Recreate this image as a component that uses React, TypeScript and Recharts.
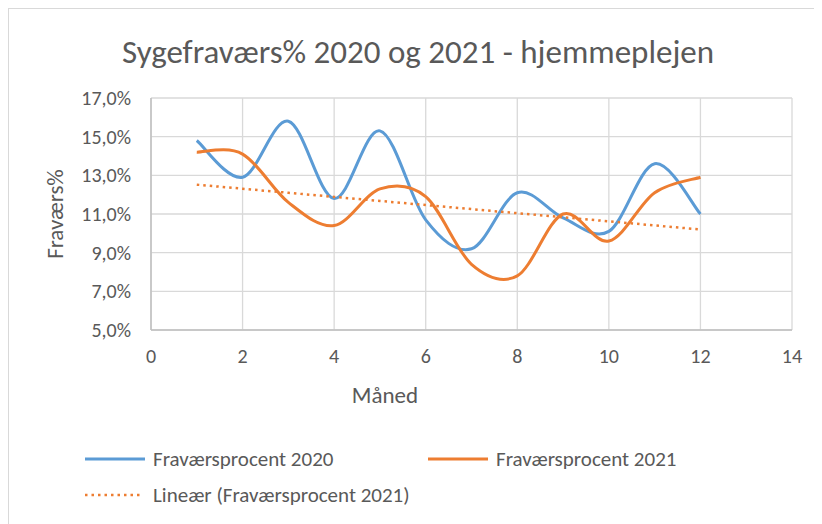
import { LineChart, Line, XAxis, YAxis, CartesianGrid } from "recharts";

const months = [1, 2, 3, 4, 5, 6, 7, 8, 9, 10, 11, 12];
const absence2020 = [14.8, 12.9, 15.8, 11.8, 15.3, 10.7, 9.2, 12.1, 10.8, 10.1, 13.6, 11.0];
const absence2021 = [14.2, 14.1, 11.6, 10.4, 12.3, 11.9, 8.4, 7.8, 11.0, 9.6, 12.1, 12.9];
const xTicks = [0, 2, 4, 6, 8, 10, 12, 14];
const yTicks = [5, 7, 9, 11, 13, 15, 17];

const BLUE = "#5B9BD5";
const ORANGE = "#ED7D31";
const TEXT = "#595959";
const GRID = "#D9D9D9";
const FONT = "Carlito, Lato, sans-serif";

// least squares line, like Excel's "Lineær" trendline
function linearFit(xs: number[], ys: number[]) {
  const n = xs.length;
  const mx = xs.reduce((s, v) => s + v, 0) / n;
  const my = ys.reduce((s, v) => s + v, 0) / n;
  let sxy = 0;
  let sxx = 0;
  xs.forEach((x, i) => {
    sxy += (x - mx) * (ys[i] - my);
    sxx += (x - mx) * (x - mx);
  });
  const slope = sxy / sxx;
  return (x: number) => my + slope * (x - mx);
}

const trend2021 = linearFit(months, absence2021);

const data = months.map((m, i) => ({
  month: m,
  y2020: absence2020[i],
  y2021: absence2021[i],
  trend: trend2021(m),
}));

// Excel-style smoothed line (catmull-rom through the points)
function excelSmooth(context: any) {
  let pts: [number, number][] = [];
  return {
    areaStart() {},
    areaEnd() {},
    lineStart() {
      pts = [];
    },
    lineEnd() {
      if (!pts.length) return;
      context.moveTo(pts[0][0], pts[0][1]);
      for (let i = 0; i < pts.length - 1; i++) {
        const p0 = pts[Math.max(i - 1, 0)];
        const p1 = pts[i];
        const p2 = pts[i + 1];
        const p3 = pts[Math.min(i + 2, pts.length - 1)];
        context.bezierCurveTo(
          p1[0] + (p2[0] - p0[0]) / 6,
          p1[1] + (p2[1] - p0[1]) / 6,
          p2[0] - (p3[0] - p1[0]) / 6,
          p2[1] - (p3[1] - p1[1]) / 6,
          p2[0],
          p2[1]
        );
      }
    },
    point(x: number, y: number) {
      pts.push([+x, +y]);
    },
  };
}

const pct = (v: number) => v.toFixed(1).replace(".", ",") + "%";

function LegendItem({ color, dotted, label }: { color: string; dotted?: boolean; label: string }) {
  return (
    <div style={{ display: "flex", alignItems: "center" }}>
      <svg width={62} height={8} style={{ marginRight: 7 }}>
        <line
          x1={1}
          y1={4}
          x2={dotted ? 57 : 61}
          y2={4}
          stroke={color}
          strokeWidth={dotted ? 2.5 : 3}
          strokeDasharray={dotted ? "2.5 4" : undefined}
        />
      </svg>
      <span>{label}</span>
    </div>
  );
}

export default function App() {
  return (
    <div
      style={{
        position: "relative",
        width: 830,
        height: 530,
        border: `1px solid ${GRID}`,
        fontFamily: FONT,
        color: TEXT,
        background: "#fff",
      }}
    >
      <div
        style={{
          position: "absolute",
          left: 9,
          top: 23,
          width: 800,
          textAlign: "center",
          fontSize: 33,
          lineHeight: "40px",
        }}
      >
        Sygefraværs% 2020 og 2021 - hjemmeplejen
      </div>

      <LineChart
        width={820}
        height={520}
        data={data}
        margin={{ top: 89, right: 37, left: 62, bottom: 169 }}
      >
        <CartesianGrid stroke={GRID} strokeWidth={1.3} />
        <XAxis
          dataKey="month"
          type="number"
          domain={[0, 14]}
          ticks={xTicks}
          height={30}
          stroke="#BFBFBF"
          strokeWidth={1.5}
          tickLine={false}
          tickSize={0}
          tickMargin={19}
          tick={{ fill: TEXT, fontSize: 20, fontFamily: FONT }}
          label={{
            content: () => (
              <text x={376} y={386} textAnchor="middle" dominantBaseline="central" fill={TEXT} fontSize={23} fontFamily={FONT}>
                Måned
              </text>
            ),
          }}
        />
        <YAxis
          type="number"
          domain={[5, 17]}
          ticks={yTicks}
          width={80}
          stroke="#BFBFBF"
          strokeWidth={1.5}
          tickLine={false}
          tickSize={0}
          tickMargin={20}
          tickFormatter={pct}
          tick={{ fill: TEXT, fontSize: 20, fontFamily: FONT }}
          label={{
            content: () => (
              <text
                x={46}
                y={205}
                transform="rotate(-90 46 205)"
                textAnchor="middle"
                dominantBaseline="central"
                fill={TEXT}
                fontSize={23}
                fontFamily={FONT}
              >
                Fraværs%
              </text>
            ),
          }}
        />
        <Line
          dataKey="y2020"
          type={excelSmooth as any}
          stroke={BLUE}
          strokeWidth={3}
          dot={false}
          activeDot={false}
          isAnimationActive={false}
        />
        <Line
          dataKey="y2021"
          type={excelSmooth as any}
          stroke={ORANGE}
          strokeWidth={3}
          dot={false}
          activeDot={false}
          isAnimationActive={false}
        />
        <Line
          dataKey="trend"
          type="linear"
          stroke={ORANGE}
          strokeWidth={2.5}
          strokeDasharray="2.5 4"
          dot={false}
          activeDot={false}
          isAnimationActive={false}
        />
      </LineChart>

      <div style={{ position: "absolute", left: 75, top: 436, fontSize: 21, lineHeight: "28px" }}>
        <div style={{ display: "flex" }}>
          <div style={{ width: 343 }}>
            <LegendItem color={BLUE} label="Fraværsprocent 2020" />
          </div>
          <LegendItem color={ORANGE} label="Fraværsprocent 2021" />
        </div>
        <div style={{ marginTop: 8 }}>
          <LegendItem color={ORANGE} dotted label="Lineær (Fraværsprocent 2021)" />
        </div>
      </div>
    </div>
  );
}
